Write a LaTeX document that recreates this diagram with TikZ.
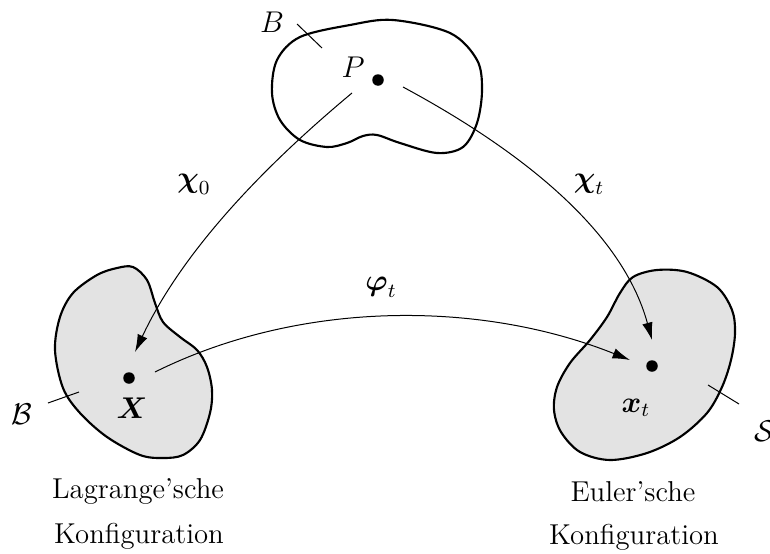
\documentclass[tikz,border=0pt]{standalone}
\usepackage{amsmath}
\usetikzlibrary{arrows.meta}
\begin{document}
\begin{tikzpicture}[x=0.4pt,y=-0.4pt,
  every node/.style={font=\fontsize{11.5}{14}\selectfont},
  blob/.style={line width=0.85pt},
  region/.style={line width=0.85pt,fill=black!11},
  leader/.style={line width=0.4pt},
  map/.style={line width=0.4pt,-{Latex[length=7pt,width=4.2pt]}},
  dot/.style={circle,fill=black,inner sep=0pt,minimum size=4.6pt},
  lbl/.style={inner sep=0pt}]
\useasboundingbox (0,0) rectangle (770,553);
% top body
\draw[blob] plot[smooth cycle,tension=0.55] coordinates {(272,93) (277,60) (300,37) (350,25) (393,20) (450,33) (477,60) (482,90) (477,123) (463,147) (437,153) (400,143) (377,135) (363,136) (347,143) (327,147) (300,140) (280,120)};
% left region
\draw[region] plot[smooth cycle,tension=0.55] coordinates {(133,267) (147,280) (155,303) (163,322) (180,337) (197,350) (207,367) (212,390) (210,413) (200,440) (183,455) (163,458) (140,455) (107,437) (80,413) (63,388) (55,350) (60,317) (73,293) (97,275) (117,268)};
% right region
\draw[region] plot[smooth cycle,tension=0.55] coordinates {(657,270) (633,277) (620,293) (607,317) (590,340) (570,363) (557,387) (554,410) (561,432) (580,452) (610,460) (647,453) (680,437) (707,413) (722,387) (731,360) (735,333) (732,310) (717,287) (687,272)};
% points
\node[dot] (P) at (378,80) {};
\node[dot] (X) at (129,378) {};
\node[dot] (x) at (652,366) {};
\node[lbl] (Plbl) at (353,67) {$P$};
\node[lbl] (Xlbl) at (132,408) {$\boldsymbol{X}$};
\node[lbl] (xlbl) at (636,408) {$\boldsymbol{x}_t$};
% body labels and leaders
\node[lbl] (Blbl) at (272,22) {$B$};
\draw[leader] (297,24) coordinate (b1) -- (322,48) coordinate (b2);
\node[lbl] (Bcal) at (22,414) {$\mathcal{B}$};
\draw[leader] (48,403) coordinate (c1) -- (79,392) coordinate (c2);
\node[lbl] (Scal) at (765,431) {$\mathcal{S}$};
\draw[leader] (708,385) coordinate (s1) -- (739,404) coordinate (s2);
% maps
\coordinate (a0) at (352,93);
\coordinate (e0) at (135,352);
\draw[map] (a0) .. controls (262,168) and (182,252) .. (e0);
\coordinate (at) at (403,87);
\coordinate (et) at (652,340);
\draw[map] (at) .. controls (520,150) and (622,230) .. (et);
\coordinate (ap) at (155,372);
\coordinate (ep) at (630,360);
\draw[map] (ap) .. controls (300,300) and (480,300) .. (ep);
\node[lbl] (chi0) at (194,184) {$\boldsymbol{\chi}_0$};
\node[lbl] (chit) at (589,184) {$\boldsymbol{\chi}_t$};
\node[lbl] (phit) at (381,287) {$\boldsymbol{\varphi}_t$};
% captions
\node[lbl,anchor=base] (L1) at (138,498) {Lagrange'sche};
\node[lbl,anchor=base] (L2) at (139,543) {Konfiguration};
\node[lbl,anchor=base] (E1) at (633,501) {Euler'sche};
\node[lbl,anchor=base] (E2) at (634,544) {Konfiguration};
\end{tikzpicture}
\end{document}
